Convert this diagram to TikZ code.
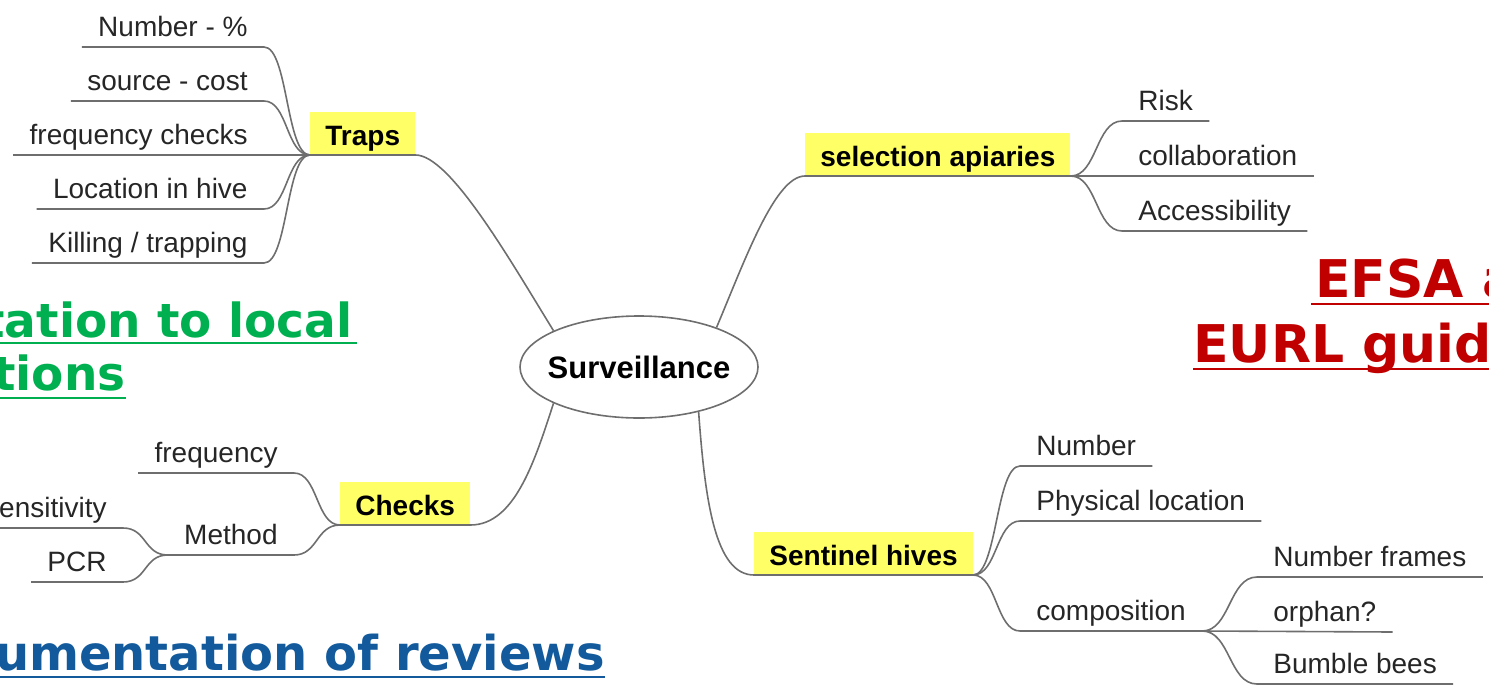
\documentclass[tikz,border=0pt]{standalone}
\usepackage{fontspec}
\setmainfont{Liberation Sans}
\newfontfamily\notefont{DejaVu Sans}
\usepackage{tikz}
\usetikzlibrary{positioning, shapes.geometric}
\definecolor{topicyellow}{HTML}{FFFF66}
\definecolor{linegray}{HTML}{6E6E6E}
\definecolor{notegreen}{HTML}{00B050}
\definecolor{notered}{HTML}{C00000}
\definecolor{noteblue}{HTML}{125A9C}

\begin{document}
\begin{tikzpicture}[x=0.5pt, y=-0.5pt]
\tikzstyle{rootnode}=[ellipse, draw=linegray, line width=0.8pt, fill=white, minimum width=119pt, minimum height=51pt, inner sep=0pt, font=\fontsize{15.5}{18}\selectfont\bfseries]
\tikzstyle{topicnode}=[fill=topicyellow, inner xsep=7.5pt, inner ysep=0pt, text height=17pt, text depth=4.5pt, font=\fontsize{14}{17}\selectfont\bfseries, anchor=south west]
\tikzstyle{leafnode}=[inner xsep=8pt, inner ysep=0pt, text height=10pt, text depth=5pt, font=\fontsize{14}{17}\selectfont, text=black!85]
\tikzstyle{edgeline}=[draw=linegray, line width=0.8pt]
\tikzstyle{notenode}=[inner sep=0pt]
    \useasboundingbox (0,0) rectangle (1489,686);
    \clip (0,0) rectangle (1489,686);

    % centre and main branches
    \node (surv) [rootnode] at (639,367) {\makebox[0pt]{Surveillance}};
    \node (traps) [topicnode] at (310,155) {Traps};
    \node (apiar) [topicnode] at (805,176) {selection apiaries};
    \node (checks) [topicnode] at (340,525) {Checks};
    \node (sentin) [topicnode] at (754,575) {Sentinel hives};

    \draw[edgeline] (surv.157) .. controls (510,260) and (450,155) .. (traps.south east) -- (traps.south west);
    \draw[edgeline] (surv.27) .. controls (745,260) and (775,176) .. (apiar.south west) -- (apiar.south east);
    \draw[edgeline] (surv.203) .. controls (535,460) and (515,525) .. (checks.south east) -- (checks.south west);
    \draw[edgeline] (surv.323) .. controls (705,500) and (715,575) .. (sentin.south west) -- (sentin.south east);

    % traps
    \node (trNum) [leafnode, anchor=south east] at (264,47) {Number - \%};
    \node (trSrc) [leafnode, below=27pt of trNum.south east, anchor=south east] {source - cost};
    \node (trFreq) [leafnode, below=27pt of trSrc.south east, anchor=south east] {frequency checks};
    \node (trLoc) [leafnode, below=27pt of trFreq.south east, anchor=south east] {Location in hive};
    \node (trKill) [leafnode, below=27pt of trLoc.south east, anchor=south east] {Killing / trapping};
    \draw[edgeline] (trNum.south west) -- (trNum.south east) .. controls +(12pt,0) and +(-12pt,0) .. (traps.south west);
    \draw[edgeline] (trSrc.south west) -- (trSrc.south east) .. controls +(12pt,0) and +(-12pt,0) .. (traps.south west);
    \draw[edgeline] (trFreq.south west) -- (traps.south west);
    \draw[edgeline] (trLoc.south west) -- (trLoc.south east) .. controls +(12pt,0) and +(-12pt,0) .. (traps.south west);
    \draw[edgeline] (trKill.south west) -- (trKill.south east) .. controls +(12pt,0) and +(-12pt,0) .. (traps.south west);

    % selection apiaries
    \node (apRisk) [leafnode, anchor=south west] at (1122,121) {Risk};
    \node (apColl) [leafnode, below=27.5pt of apRisk.south west, anchor=south west] {collaboration};
    \node (apAcc) [leafnode, below=27.5pt of apColl.south west, anchor=south west] {Accessibility};
    \draw[edgeline] (apiar.south east) .. controls +(13pt,0) and +(-13pt,0) .. (apRisk.south west) -- (apRisk.south east);
    \draw[edgeline] (apiar.south east) -- (apColl.south east);
    \draw[edgeline] (apiar.south east) .. controls +(13pt,0) and +(-13pt,0) .. (apAcc.south west) -- (apAcc.south east);

    % checks
    \node (chFreq) [leafnode, anchor=south east] at (294,473) {frequency};
    \node (chMeth) [leafnode, below=41pt of chFreq.south east, anchor=south east] {Method};
    \node (chSens) [leafnode, anchor=south east] at (123,528) {ensitivity};
    \node (chPCR) [leafnode, below=27pt of chSens.south east, anchor=south east] {PCR};
    \draw[edgeline] (chFreq.south west) -- (chFreq.south east) .. controls +(12pt,0) and +(-12pt,0) .. (checks.south west);
    \draw[edgeline] (chMeth.south west) -- (chMeth.south east) .. controls +(12pt,0) and +(-12pt,0) .. (checks.south west);
    \draw[edgeline] (chSens.south west) -- (chSens.south east) .. controls +(12pt,0) and +(-12pt,0) .. (chMeth.south west);
    \draw[edgeline] (chPCR.south west) -- (chPCR.south east) .. controls +(12pt,0) and +(-12pt,0) .. (chMeth.south west);

    % sentinel hives
    \node (seNum) [leafnode, anchor=south west] at (1020,466) {Number};
    \node (sePhys) [leafnode, below=27.5pt of seNum.south west, anchor=south west] {Physical location};
    \node (seComp) [leafnode, below=55pt of sePhys.south west, anchor=south west] {composition};
    \node (coFrames) [leafnode, anchor=south west] at (1257,577) {Number frames};
    \node (coOrph) [leafnode, below=27.5pt of coFrames.south west, anchor=south west] {orphan?};
    \node (coBumb) [leafnode, below=26pt of coOrph.south west, anchor=south west] {Bumble bees};
    \draw[edgeline] (sentin.south east) .. controls +(12pt,0) and +(-12pt,0) .. (seNum.south west) -- (seNum.south east);
    \draw[edgeline] (sentin.south east) .. controls +(12pt,0) and +(-12pt,0) .. (sePhys.south west) -- (sePhys.south east);
    \draw[edgeline] (sentin.south east) .. controls +(12pt,0) and +(-12pt,0) .. (seComp.south west) -- (seComp.south east);
    \draw[edgeline] (seComp.south east) .. controls +(14pt,0) and +(-14pt,0) .. (coFrames.south west) -- (coFrames.south east);
    \draw[edgeline] (seComp.south east) -- (coOrph.south east);
    \draw[edgeline] (seComp.south east) .. controls +(14pt,0) and +(-14pt,0) .. (coBumb.south west) -- (coBumb.south east);

    % notes round the map
    \node (noteGa) [notenode, text=notegreen, font=\notefont\bfseries\fontsize{23.5}{28}\selectfont, anchor=base east] at (353,337) {tation to local};
    \node (noteGb) [notenode, text=notegreen, font=\notefont\bfseries\fontsize{23.5}{28}\selectfont, anchor=base east] at (126,390) {tions};
    \node (noteB) [notenode, text=noteblue, font=\notefont\bfseries\fontsize{24}{29}\selectfont, anchor=base east] at (605,670) {umentation of reviews};
    \node (noteRa) [notenode, text=notered, font=\notefont\bfseries\fontsize{26}{31}\selectfont, anchor=base west] at (1315,297) {EFSA a};
    \node (noteRb) [notenode, text=notered, font=\notefont\bfseries\fontsize{26}{31}\selectfont, anchor=base west] at (1193,362) {EURL guid};
    \draw[notegreen, line width=1pt] ([yshift=-3pt]noteGa.base west) -- ([yshift=-3pt,xshift=2pt]noteGa.base east);
    \draw[notegreen, line width=1pt] ([yshift=-4pt]noteGb.base west) -- ([yshift=-4pt]noteGb.base east);
    \draw[noteblue, line width=1pt] ([yshift=-3.5pt]noteB.base west) -- ([yshift=-3.5pt]noteB.base east);
    \draw[notered, line width=1pt] ([yshift=-3.5pt,xshift=-2pt]noteRa.base west) -- ([yshift=-3.5pt]noteRa.base east);
    \draw[notered, line width=1pt] ([yshift=-3.5pt]noteRb.base west) -- ([yshift=-3.5pt]noteRb.base east);
\end{tikzpicture}
\end{document}
